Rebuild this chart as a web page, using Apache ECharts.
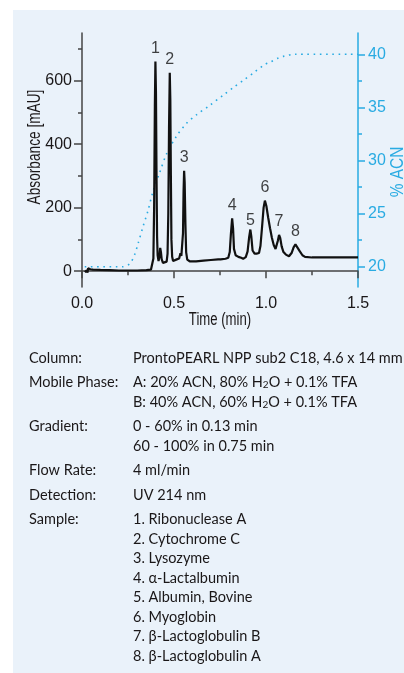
<!DOCTYPE html>
<html>
<head>
<meta charset="utf-8">
<script src="https://cdn.jsdelivr.net/npm/echarts@6/dist/echarts.min.js"></script>
<style>
html,body{margin:0;padding:0;background:#fff;}
#wrap{position:relative;width:404px;height:673px;overflow:hidden;background:#fff;}
#panel{position:absolute;left:13px;top:10px;width:391px;height:663px;background:#eaf2fa;}
#chart{position:absolute;left:0;top:0;width:404px;height:673px;}
</style>
</head>
<body>
<div id="wrap"><div id="panel"></div><div id="chart"></div></div>
<script>
// ---- data ----
const traceTime = [0.015,0.020,0.026,0.030,0.033,0.038,0.045,0.06,0.10,0.15,0.20,0.25,0.30,0.35,0.375,0.383,0.388,0.392,0.396,0.399,0.402,0.405,0.408,0.411,0.416,0.421,0.425,0.429,0.433,0.440,0.450,0.460,0.465,0.469,0.473,0.477,0.480,0.483,0.486,0.490,0.495,0.505,0.515,0.528,0.535,0.540,0.545,0.549,0.552,0.555,0.558,0.562,0.566,0.572,0.585,0.62,0.66,0.70,0.74,0.748,0.753,0.78,0.795,0.803,0.809,0.816,0.821,0.826,0.835,0.85,0.865,0.876,0.89,0.900,0.908,0.915,0.920,0.927,0.938,0.949,0.962,0.970,0.978,0.987,0.994,1.002,1.012,1.022,1.032,1.042,1.052,1.058,1.064,1.071,1.077,1.085,1.095,1.108,1.125,1.140,1.150,1.160,1.170,1.184,1.198,1.212,1.25,1.30,1.40,1.50];
const traceAbs = [-3,-6,2,-5,9,7,6,5,4,3,2,2,2,3,5,8,40,200,520,660,560,300,110,50,32,45,73,60,38,26,27,30,55,180,450,625,540,300,100,45,32,33,37,40,56,48,48,120,250,316,280,150,60,36,31,31,33,35,37,42,37,39,42,60,115,166,135,70,50,45,42,39,44,62,105,131,110,65,55,55,57,80,135,200,222,205,168,135,105,82,70,72,95,114,105,78,60,52,47,58,75,84,78,62,50,45,43,43,43,43];

const gradTime = [0.015,0.22,0.26,0.285,0.305,0.332,0.359,0.386,0.423,0.459,0.514,0.568,0.622,0.695,0.771,0.825,0.881,0.936,0.990,1.027,1.061,1.094,1.159,1.50];
const gradACN  = [20,20,20.3,21.1,22.2,23.8,25.3,27.1,28.9,30.6,32.3,33.5,34.3,35.2,36.2,36.9,37.6,38.3,39.0,39.3,39.6,39.8,40,40];

const peakNames = ['1','2','3','4','5','6','7','8'];
const peakTime  = [0.399,0.477,0.555,0.816,0.915,0.994,1.071,1.160];
const peakAbs   = [660,625,316,166,131,222,114,84];

const xTicksMajor = [0,0.5,1.0,1.5];
const absTicksMajor = [0,200,400,600];
const absTicksMinor = [100,300,500,700];
const acnTicksMajor = [20,25,30,35,40];
const acnTicksMinor = [22.5,27.5,32.5,37.5];

const xTitle = 'Time (min)';
const yTitleLeft = 'Absorbance [mAU]';
const yTitleRight = '% ACN';

const specLabels = ['Column:','Mobile Phase:','Gradient:','Flow Rate:','Detection:','Sample:'];
const specValues = [
  ['ProntoPEARL NPP sub2 C18, 4.6 x 14 mm'],
  ['A: 20% ACN, 80% H{sub|2}O + 0.1% TFA','B: 40% ACN, 60% H{sub|2}O + 0.1% TFA'],
  ['0 - 60% in 0.13 min','60 - 100% in 0.75 min'],
  ['4 ml/min'],
  ['UV 214 nm'],
  ['1. Ribonuclease A','2. Cytochrome C','3. Lysozyme','4. α-Lactalbumin','5. Albumin, Bovine','6. Myoglobin','7. β-Lactoglobulin B','8. β-Lactoglobulin A']
];

// ---- build ----
const AX = '"Liberation Sans",Arial,sans-serif';
const TX = 'Lato,"Open Sans",sans-serif';
const DARK = '#444';
const CYAN = '#29abe2';
const INK = '#1a1718';

const traceData = traceTime.map((t,i)=>[t,traceAbs[i]]);
const gradData = gradTime.map((t,i)=>[t,gradACN[i]]);
const peakData = peakTime.map((t,i)=>({value:[t,peakAbs[i]], name:peakNames[i],
  label: peakNames[i]==='5' ? {distance:1} : undefined}));

const graphics = [];
graphics.push({type:'text', x:35, y:147, rotation:Math.PI/2, scaleX:0.76,
  style:{text:yTitleLeft, font:'18px '+AX, fill:INK, align:'center', verticalAlign:'middle'}});
graphics.push({type:'text', x:398, y:172, rotation:Math.PI/2, scaleX:0.86,
  style:{text:yTitleRight, font:'18px '+AX, fill:CYAN, align:'center', verticalAlign:'middle'}});
graphics.push({type:'text', x:220, y:320, scaleX:0.73,
  style:{text:xTitle, font:'18px '+AX, fill:INK, align:'center', verticalAlign:'middle'}});

let y = 358;
specLabels.forEach((lab,bi)=>{
  if (bi>0) y += 24.5;
  graphics.push({type:'text', x:29, y:y, style:{text:lab, font:'14.5px '+TX, fill:INK, verticalAlign:'middle'}});
  specValues[bi].forEach((v,li)=>{
    if (li>0) y += 19.5;
    graphics.push({type:'text', x:133, y:y, style:{text:v, font:'14.5px '+TX, fill:INK, verticalAlign:'middle',
      rich:{sub:{fontSize:10, fontFamily:TX, fill:INK, verticalAlign:'bottom', lineHeight:11}}}});
  });
});

const chart = echarts.init(document.getElementById('chart'), null, {renderer:'canvas'});
chart.setOption({
  backgroundColor:'transparent',
  animation:false,
  grid:{left:82, right:46, top:33, bottom:386},
  xAxis:{type:'value', min:0, max:1.5, interval:0.5,
    axisLine:{lineStyle:{color:DARK, width:1.5}},
    axisTick:{length:7, lineStyle:{color:DARK, width:1.5}},
    minorTick:{show:true, splitNumber:2, length:4, lineStyle:{color:DARK, width:1.5}},
    axisLabel:{fontFamily:AX, fontSize:16, color:INK, margin:9, formatter:v=>v.toFixed(1), customValues:xTicksMajor},
    splitLine:{show:false}},
  yAxis:[
    {type:'value', position:'left', min:-50, max:750,
      axisLine:{show:true, lineStyle:{color:DARK, width:1.5}},
      axisTick:{show:true, length:8, customValues:absTicksMajor, lineStyle:{color:DARK, width:1.5}},
      axisLabel:{fontFamily:AX, fontSize:16, color:INK, margin:10, customValues:absTicksMajor},
      splitLine:{show:false}},
    {type:'value', position:'left', min:-50, max:750,
      axisLine:{show:false},
      axisTick:{show:true, length:4, customValues:absTicksMinor, lineStyle:{color:DARK, width:1.5}},
      axisLabel:{show:false}, splitLine:{show:false}},
    {type:'value', position:'right', min:18.1, max:42,
      axisLine:{show:true, lineStyle:{color:CYAN, width:1.5}},
      axisTick:{show:true, length:7, customValues:acnTicksMajor, lineStyle:{color:CYAN, width:1.5}},
      axisLabel:{fontFamily:AX, fontSize:16, color:CYAN, margin:10, customValues:acnTicksMajor},
      splitLine:{show:false}},
    {type:'value', position:'right', min:18.1, max:42,
      axisLine:{show:false},
      axisTick:{show:true, length:4, customValues:acnTicksMinor, lineStyle:{color:CYAN, width:1.5}},
      axisLabel:{show:false}, splitLine:{show:false}}
  ],
  series:[
    {type:'line', name:'ACN', yAxisIndex:2, data:gradData, showSymbol:false, smooth:0.3,
      lineStyle:{color:CYAN, width:1.6, type:[1.6,4.6]}, z:2},
    {type:'line', name:'Absorbance', yAxisIndex:0, data:traceData, showSymbol:false,
      lineStyle:{color:'#111', width:2.2}, z:3},
    {type:'scatter', yAxisIndex:0, data:peakData, symbolSize:0, z:4,
      label:{show:true, position:'top', distance:5, formatter:p=>p.name,
        fontFamily:AX, fontSize:16, color:'#111'}}
  ],
  graphic:graphics
});
</script>
</body>
</html>
